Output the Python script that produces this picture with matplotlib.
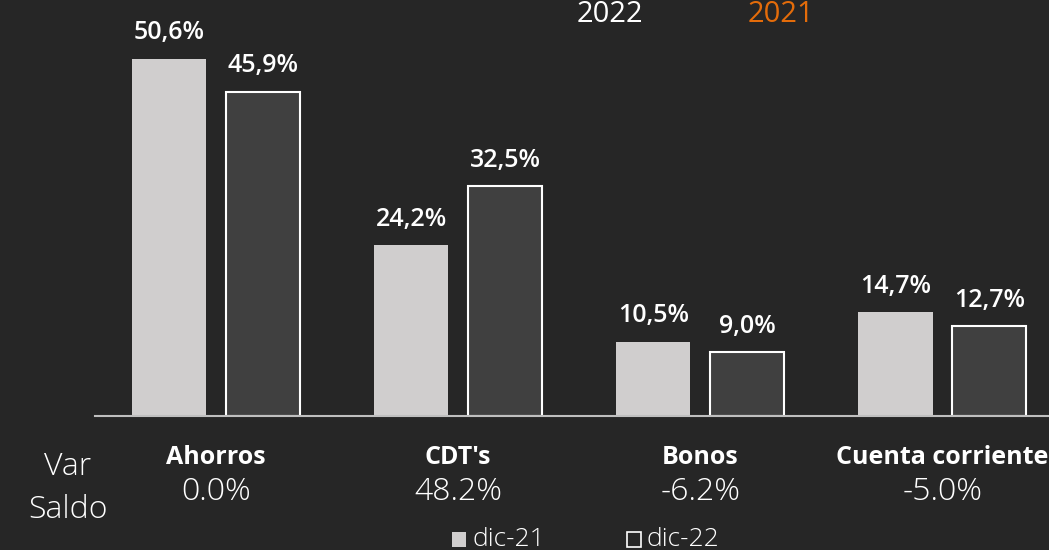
import matplotlib

matplotlib.use("Agg")
import matplotlib.pyplot as plt
import matplotlib.transforms as mtransforms
import numpy as np
from matplotlib.patches import Rectangle

categories = ["Ahorros", "CDT's", "Bonos", "Cuenta corriente"]
dic21 = [50.6, 24.2, 10.5, 14.7]
dic22 = [45.9, 32.5, 9.0, 12.7]
var_saldo = ["0.0%", "48.2%", "-6.2%", "-5.0%"]
series_names = ["dic-21", "dic-22"]
years = ["2022", "2021"]

BG = "#262626"
C21 = "#D0CECE"
C22 = "#404040"
ORANGE = "#E46C0A"

plt.rcParams["font.family"] = ["Open Sans", "DejaVu Sans"]


def pct(v):
    return f"{v:.1f}".replace(".", ",") + "%"


fig = plt.figure(figsize=(10.49, 5.5), dpi=100)
fig.patch.set_facecolor(BG)
ax = fig.add_axes([95 / 1049, 134 / 550, 954 / 1049, 416 / 550])
ax.set_facecolor(BG)

x = np.arange(len(categories))
off = 0.194
w = 0.306
ax.bar(x - off, dic21, w, color=C21, edgecolor="none")
ax.bar(x + off, dic22, w, color=C22, edgecolor="white", linewidth=1.5)

for xi, v in zip(x, dic21):
    ax.text(xi - off, v + 1.9, pct(v), ha="center", va="bottom",
            color="white", fontsize=18, fontweight="semibold")
for xi, v in zip(x, dic22):
    ax.text(xi + off, v + 1.9, pct(v), ha="center", va="bottom",
            color="white", fontsize=18, fontweight="semibold")

ax.set_xlim(-0.5, 3.44)
ax.set_ylim(0, 58.9)
for s in ["top", "right", "left"]:
    ax.spines[s].set_visible(False)
ax.spines["bottom"].set_color("#BFBFBF")
ax.spines["bottom"].set_linewidth(1.5)
ax.set_xticks([])
ax.set_yticks([])

trans = mtransforms.blended_transform_factory(ax.transData, fig.transFigure)
for xi, cat, vs in zip(x, categories, var_saldo):
    ax.text(xi, 1 - 457 / 550, cat, transform=trans, ha="center", va="center",
            color="white", fontsize=18, fontweight="bold", clip_on=False)
    ax.text(xi, 1 - 492 / 550, vs, transform=trans, ha="center", va="center",
            color="white", fontsize=23, fontweight="light", clip_on=False)

fig.text(68 / 1049, 1 - 467 / 550, "Var", ha="center", va="center", color="white",
         fontsize=23, fontweight="light")
fig.text(68 / 1049, 1 - 510 / 550, "Saldo", ha="center", va="center", color="white",
         fontsize=23, fontweight="light")

fig.text(610 / 1049, 1 - 15 / 550, years[0], ha="center", va="center", color="white", fontsize=21)
fig.text(781 / 1049, 1 - 15 / 550, years[1], ha="center", va="center", color=ORANGE, fontsize=21)

# legend
fig.patches.append(Rectangle((452 / 1049, 1 - 547 / 550), 14 / 1049, 15 / 550,
                             transform=fig.transFigure, facecolor=C21, edgecolor="none"))
fig.patches.append(Rectangle((627 / 1049, 1 - 547 / 550), 14 / 1049, 15 / 550,
                             transform=fig.transFigure, facecolor=BG, edgecolor="white",
                             linewidth=1.2))
fig.text(473 / 1049, 1 - 539 / 550, series_names[0], ha="left", va="center", color="white",
         fontsize=19, fontweight="light")
fig.text(647 / 1049, 1 - 539 / 550, series_names[1], ha="left", va="center", color="white",
         fontsize=19, fontweight="light")

fig.savefig("out.png", dpi=100, facecolor=BG)
